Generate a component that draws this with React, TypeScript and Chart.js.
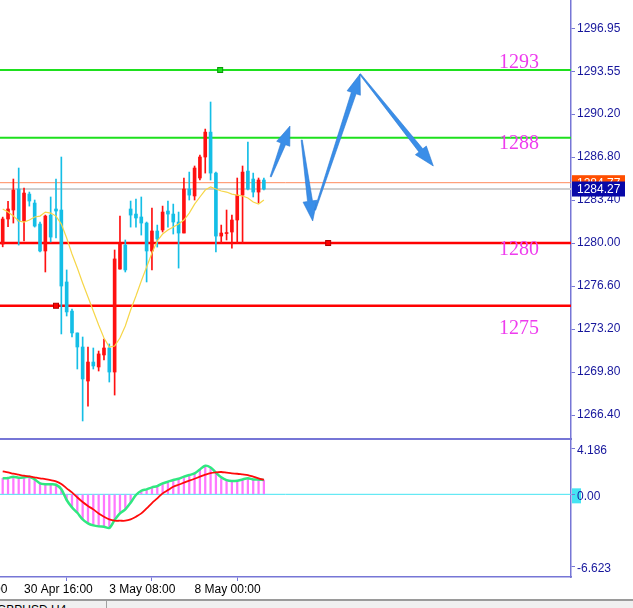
import { useEffect, useRef } from 'react';
import { Chart, registerables } from 'chart.js';

Chart.register(...registerables);

// ---------- data (H4 candles) ----------
const OPEN = [1279.92, 1281.9, 1282.61, 1284.27, 1281.74, 1283.87, 1283.16, 1281.5, 1279.37, 1282.21,
  1282.69, 1282.61, 1276.92, 1274.62, 1272.89, 1271.78, 1269.09, 1270.59, 1270.2, 1271.15,
  1271.7, 1269.8, 1277.94, 1279.84, 1282.69, 1282.29, 1282.06, 1281.58, 1279.37, 1280.95,
  1281.03, 1282.53, 1282.29, 1281.66, 1280.79, 1284.27, 1283.72, 1285.14, 1286.8, 1288.77,
  1285.53, 1280.55, 1280.75, 1280.87, 1281.82, 1283.79, 1285.69, 1285.06, 1284.03, 1284.98];
const HIGH = [1282.05, 1283.3, 1285.06, 1285.93, 1284.35, 1284.03, 1283.4, 1281.66, 1282.21, 1283.64,
  1285.06, 1286.8, 1277.87, 1274.78, 1272.89, 1272.57, 1271.78, 1271.7, 1271.46, 1272.41,
  1272.02, 1279.45, 1282.13, 1280.24, 1283.32, 1283.48, 1283.64, 1281.66, 1282.77, 1281.42,
  1282.92, 1283.32, 1283.08, 1282.45, 1285.14, 1285.61, 1286.09, 1286.96, 1289.01, 1291.15,
  1285.61, 1281.42, 1282.61, 1282.21, 1285.14, 1286.09, 1287.98, 1285.53, 1285.14, 1285.14];
const LOW = [1279.7, 1281.3, 1281.58, 1279.84, 1280.16, 1282.92, 1281.26, 1279.29, 1277.71, 1280.08,
  1280.4, 1272.81, 1274.23, 1272.57, 1270.04, 1265.93, 1267.11, 1270.04, 1269.88, 1270.75,
  1269.01, 1267.98, 1277.94, 1277.71, 1281.26, 1281.26, 1280.63, 1276.92, 1277.87, 1279.68,
  1280.87, 1281.26, 1280.71, 1278.02, 1280.79, 1283.4, 1283.4, 1284.98, 1285.53, 1284.98,
  1279.29, 1280.0, 1280.24, 1279.6, 1280.0, 1280.0, 1284.19, 1283.64, 1283.16, 1284.19];
const CLOSE = [1281.9, 1282.69, 1284.19, 1281.74, 1283.95, 1283.32, 1281.34, 1279.37, 1282.13, 1280.47,
  1282.53, 1276.6, 1274.55, 1272.89, 1271.78, 1269.25, 1270.59, 1270.28, 1271.23, 1271.7,
  1269.8, 1278.74, 1279.92, 1277.87, 1282.21, 1281.98, 1281.58, 1279.37, 1280.95, 1280.32,
  1282.45, 1282.29, 1281.66, 1280.79, 1284.27, 1283.79, 1285.93, 1286.8, 1288.77, 1285.53,
  1280.55, 1280.79, 1280.79, 1281.82, 1283.79, 1285.61, 1284.27, 1284.03, 1284.98, 1284.27];
const MA = [1282.69, 1282.45, 1282.13, 1281.74, 1281.66, 1281.82, 1282.06, 1282.13, 1282.45, 1282.37,
  1282.13, 1281.5, 1280.4, 1279.13, 1278.02, 1276.84, 1275.73, 1274.62, 1273.52, 1272.49,
  1271.78, 1271.86, 1272.49, 1273.44, 1274.7, 1275.81, 1277.0, 1278.1, 1279.21, 1280.16,
  1280.71, 1281.03, 1281.26, 1281.5, 1281.82, 1282.37, 1283.08, 1283.64, 1284.19, 1284.43,
  1284.27, 1284.11, 1284.03, 1283.87, 1283.79, 1283.72, 1283.56, 1283.24, 1283.08, 1283.4];
const MACD_MAIN = [1.47, 1.5, 1.62, 1.53, 1.56, 1.62, 1.37, 1.01, 0.92, 0.92,
  0.88, 0.46, -0.52, -1.2, -1.69, -2.3, -2.66, -2.85, -2.94, -2.97,
  -3.09, -2.36, -1.75, -1.38, -0.77, -0.06, 0.33, 0.46, 0.64, 0.76,
  1.01, 1.16, 1.31, 1.43, 1.62, 1.77, 1.92, 2.29, 2.63, 2.47,
  1.99, 1.56, 1.31, 1.22, 1.25, 1.37, 1.47, 1.37, 1.37, 1.31];
const MACD_SIGNAL = [2.11, 2.02, 1.89, 1.8, 1.71, 1.65, 1.56, 1.47, 1.4, 1.31,
  1.19, 0.95, 0.55, 0.18, -0.28, -0.71, -1.07, -1.38, -1.75, -2.05,
  -2.3, -2.42, -2.42, -2.42, -2.3, -2.05, -1.75, -1.29, -0.8, -0.37,
  0.09, 0.39, 0.7, 0.88, 1.07, 1.25, 1.43, 1.62, 1.8, 1.95,
  2.02, 2.05, 1.99, 1.92, 1.89, 1.83, 1.77, 1.62, 1.47, 1.34];

const PRICE_TICKS = [1296.95, 1293.55, 1290.2, 1286.8, 1283.4, 1280.0, 1276.6, 1273.2, 1269.8, 1266.4];
const MACD_TICKS = [4.186, 0, -6.623];
const TIME_TICK_INDEX = [-12, 4, 20, 36];
const TIME_TICK_LABELS = ['26 Apr 00:00', '30 Apr 16:00', '3 May 08:00', '8 May 00:00'];

const RESIST_LEVELS = [1293.68, 1288.32];
const SUPPORT_LEVELS = [1280.0, 1275.04];
const LEVEL_TEXT = ['1293', '1288', '1280', '1275'];
const LEVEL_TEXT_PRICE = [1294.25, 1287.88, 1279.5, 1273.26];
const LEVEL_TEXT_INDEX = 93.1;
const ANCHOR_INDEX = [40.8, 61.06, 10];
const ANCHOR_PRICE = [1293.68, 1280.0, 1275.04];
const ASK = 1284.77;
const BID = 1284.27;
// forecast arrows: [fromIndex, fromPrice, toIndex, toPrice]
const ARROWS = [
  [50.28, 1285.24, 53.9, 1289.25],
  [56.1, 1288.14, 58.16, 1281.74],
  [58.6, 1282.61, 67.04, 1293.36],
  [67.04, 1293.36, 80.79, 1286.09],
];

// ---------- view settings ----------
const X_MIN = -0.507;
const X_MAX = 106.62;
const PRICE_MIN = 1264.51;
const PRICE_MAX = 1299.21;
const MACD_MIN = -7.587;
const MACD_MAX = 4.89;
const AXIS_W = 62;
const AXIS_COLOR = '#7676D6';
const LABEL_COLOR = '#16169C';
const FONT = "'Liberation Sans', Arial, sans-serif";
const BULL = '#FF1010';
const BEAR = '#14BEE6';

const idx = CLOSE.map((_, i) => i);
const bodyColors = CLOSE.map((c, i) => (c >= OPEN[i] ? BULL : BEAR));

const pricePlugin = {
  id: 'priceDecor',
  beforeDatasetsDraw(chart: any) {
    const { ctx, chartArea: a, scales } = chart;
    const x = scales.x, y = scales.y;
    ctx.save();
    const hline = (p: number, color: string, w: number) => {
      const py = y.getPixelForValue(p);
      ctx.strokeStyle = color;
      ctx.lineWidth = w;
      ctx.beginPath();
      ctx.moveTo(a.left, py);
      ctx.lineTo(a.right, py);
      ctx.stroke();
    };
    hline(BID, '#CFCFCF', 2);
    hline(ASK, '#FF8A5C', 1);
    RESIST_LEVELS.forEach((p) => hline(p, '#1EE01E', 2));
    SUPPORT_LEVELS.forEach((p) => hline(p, '#FF0000', 2.5));
    ANCHOR_INDEX.forEach((ix, k) => {
      const px = x.getPixelForValue(ix);
      const py = y.getPixelForValue(ANCHOR_PRICE[k]);
      ctx.fillStyle = k === 0 ? '#1EE01E' : '#FF0000';
      ctx.fillRect(px - 2.5, py - 2.5, 5, 5);
      ctx.strokeStyle = k === 0 ? '#0A9A0A' : '#B00000';
      ctx.lineWidth = 1;
      ctx.strokeRect(px - 2.5, py - 2.5, 5, 5);
    });
    ctx.restore();
  },
  afterDatasetsDraw(chart: any) {
    const { ctx, scales } = chart;
    const x = scales.x, y = scales.y;
    ctx.save();
    ctx.font = "20px 'Liberation Serif', 'Times New Roman', serif";
    ctx.fillStyle = '#EE3CEE';
    ctx.textAlign = 'left';
    ctx.textBaseline = 'middle';
    LEVEL_TEXT.forEach((t, k) => {
      ctx.fillText(t, x.getPixelForValue(LEVEL_TEXT_INDEX), y.getPixelForValue(LEVEL_TEXT_PRICE[k]));
    });
    ARROWS.forEach(([i0, p0, i1, p1]) => {
      const sx = x.getPixelForValue(i0), sy = y.getPixelForValue(p0);
      const tx = x.getPixelForValue(i1), ty = y.getPixelForValue(p1);
      const len = Math.hypot(tx - sx, ty - sy);
      const dx = (tx - sx) / len, dy = (ty - sy) / len;
      const nx = -dy, ny = dx;
      const head = Math.min(20, len * 0.35);
      const bx = tx - dx * head, by = ty - dy * head;
      ctx.beginPath();
      ctx.moveTo(sx + nx * 0.6, sy + ny * 0.6);
      ctx.lineTo(bx + nx * 2.5, by + ny * 2.5);
      ctx.lineTo(bx + nx * 7, by + ny * 7);
      ctx.lineTo(tx, ty);
      ctx.lineTo(bx - nx * 7, by - ny * 7);
      ctx.lineTo(bx - nx * 2.5, by - ny * 2.5);
      ctx.lineTo(sx - nx * 0.6, sy - ny * 0.6);
      ctx.closePath();
      ctx.fillStyle = '#3A8EE8';
      ctx.fill();
      ctx.strokeStyle = '#2C7BD4';
      ctx.lineWidth = 0.6;
      ctx.stroke();
    });
    ctx.restore();
  },
  afterDraw(chart: any) {
    const { ctx, chartArea: a, scales } = chart;
    const y = scales.y;
    ctx.save();
    ctx.strokeStyle = AXIS_COLOR;
    ctx.lineWidth = 2;
    ctx.beginPath();
    ctx.moveTo(0, a.bottom);
    ctx.lineTo(a.right + 1, a.bottom);
    ctx.stroke();
    const box = (p: number, bg: string) => {
      const py = y.getPixelForValue(p);
      ctx.fillStyle = bg;
      ctx.fillRect(a.right + 1, py - 7.5, 53, 15);
      ctx.fillStyle = '#FFFFFF';
      ctx.font = `12px ${FONT}`;
      ctx.textAlign = 'left';
      ctx.textBaseline = 'middle';
      ctx.fillText(p.toFixed(2), a.right + 6, py + 0.5);
    };
    box(ASK, '#FF4E00');
    box(BID, '#0808A8');
    ctx.restore();
  },
};

const macdPlugin = {
  id: 'macdDecor',
  beforeDraw(chart: any) {
    const { ctx, chartArea: a, scales } = chart;
    const py = scales.y.getPixelForValue(0);
    ctx.save();
    ctx.fillStyle = '#44E4F2';
    ctx.fillRect(a.right + 1, py - 6, 9, 15);
    ctx.restore();
  },
  beforeDatasetsDraw(chart: any) {
    const { ctx, chartArea: a, scales } = chart;
    const py = scales.y.getPixelForValue(0);
    ctx.save();
    ctx.strokeStyle = '#44E4F2';
    ctx.lineWidth = 1;
    ctx.beginPath();
    ctx.moveTo(a.left, py);
    ctx.lineTo(a.right, py);
    ctx.stroke();
    ctx.restore();
  },
};

const yAxis = (ticks: number[], fmt: (v: number) => string, min: number, max: number, labelOffset: number) => ({
  type: 'linear' as const,
  position: 'right' as const,
  min,
  max,
  afterFit: (s: any) => { s.width = AXIS_W; },
  afterBuildTicks: (s: any) => { s.ticks = ticks.map((v) => ({ value: v })); },
  ticks: {
    callback: (v: any) => fmt(Number(v)),
    color: LABEL_COLOR,
    font: { family: FONT, size: 12, lineHeight: 0.01 },
    padding: 2,
    autoSkip: false,
    labelOffset,
  },
  grid: { drawOnChartArea: false, drawTicks: true, tickLength: 4, color: AXIS_COLOR },
  border: { display: true, color: AXIS_COLOR, width: 1.5 },
});

export default function App() {
  const priceRef = useRef<HTMLCanvasElement>(null);
  const macdRef = useRef<HTMLCanvasElement>(null);

  useEffect(() => {
    const price = new Chart(priceRef.current as HTMLCanvasElement, {
      type: 'bar',
      data: {
        datasets: [
          {
            type: 'bar',
            data: idx.map((i) => ({ x: i, y: [LOW[i], HIGH[i]] })) as any,
            backgroundColor: bodyColors,
            barThickness: 1,
            grouped: false,
            order: 3,
          },
          {
            type: 'bar',
            data: idx.map((i) => ({ x: i, y: [OPEN[i], CLOSE[i]] })) as any,
            backgroundColor: bodyColors,
            barThickness: 3,
            minBarLength: 1,
            grouped: false,
            order: 2,
          },
          {
            type: 'line',
            data: idx.map((i) => ({ x: i, y: MA[i] })) as any,
            borderColor: '#F6D648',
            borderWidth: 1.2,
            pointRadius: 0,
            tension: 0,
            order: 1,
          },
        ],
      },
      options: {
        responsive: false,
        animation: false,
        layout: { padding: 0 },
        plugins: { legend: { display: false }, tooltip: { enabled: false } },
        scales: {
          x: { type: 'linear', display: false, min: X_MIN, max: X_MAX, offset: false },
          y: yAxis(PRICE_TICKS, (v) => v.toFixed(2), PRICE_MIN, PRICE_MAX, 0) as any,
        },
      },
      plugins: [pricePlugin],
    });

    const macd = new Chart(macdRef.current as HTMLCanvasElement, {
      type: 'bar',
      data: {
        datasets: [
          {
            type: 'bar',
            data: idx.map((i) => ({ x: i, y: MACD_MAIN[i] })) as any,
            backgroundColor: '#FF78FF',
            barThickness: 1.6,
            grouped: false,
            order: 3,
          },
          {
            type: 'line',
            data: idx.map((i) => ({ x: i, y: MACD_MAIN[i] })) as any,
            borderColor: '#30E880',
            borderWidth: 2.5,
            pointRadius: 0,
            tension: 0.3,
            order: 2,
          },
          {
            type: 'line',
            data: idx.map((i) => ({ x: i, y: MACD_SIGNAL[i] })) as any,
            borderColor: '#FF0A0A',
            borderWidth: 1.8,
            pointRadius: 0,
            tension: 0.3,
            order: 1,
          },
        ],
      },
      options: {
        responsive: false,
        animation: false,
        layout: { padding: 0 },
        plugins: { legend: { display: false }, tooltip: { enabled: false } },
        scales: {
          x: {
            type: 'linear',
            position: 'bottom',
            min: X_MIN,
            max: X_MAX,
            offset: false,
            afterFit: (s: any) => {
              s.height = 23;
              s.paddingLeft = 0;
              s.paddingRight = 0;
            },
            afterBuildTicks: (s: any) => { s.ticks = TIME_TICK_INDEX.map((v) => ({ value: v })); },
            ticks: {
              align: 'start',
              autoSkip: false,
              maxRotation: 0,
              minRotation: 0,
              padding: 1,
              color: '#000000',
              font: { family: FONT, size: 12 },
              callback: (v: any) => {
                const k = TIME_TICK_INDEX.indexOf(Number(v));
                return k >= 0 ? TIME_TICK_LABELS[k] : '';
              },
            },
            grid: { drawOnChartArea: false, drawTicks: true, tickLength: 4, color: AXIS_COLOR },
            border: { display: true, color: AXIS_COLOR, width: 1.5 },
          } as any,
          y: yAxis(MACD_TICKS, (v) => (v === 0 ? '0.00' : String(v)), MACD_MIN, MACD_MAX, 2) as any,
        },
      },
      plugins: [macdPlugin],
    });

    return () => {
      price.destroy();
      macd.destroy();
    };
  }, []);

  return (
    <div style={{ position: 'absolute', left: 0, top: 0, width: 633, height: 608, background: '#FFFFFF', overflow: 'hidden' }}>
      <canvas ref={priceRef} width={633} height={443} style={{ position: 'absolute', left: 0, top: -2 }} />
      <canvas ref={macdRef} width={633} height={161} style={{ position: 'absolute', left: 0, top: 439 }} />
      <div style={{ position: 'absolute', left: 0, top: 599, width: 633, height: 9, background: '#F0F0F0', borderTop: '2px solid #9A9A9A' }}>
        <div style={{ position: 'absolute', left: 106, top: 0, width: 1, height: 9, background: '#A0A0A0' }} />
        <span style={{ position: 'absolute', left: -3, top: 2, font: `12px ${FONT}`, lineHeight: '14px', color: '#000', whiteSpace: 'nowrap' }}>GBPUSD,H4</span>
      </div>
    </div>
  );
}
